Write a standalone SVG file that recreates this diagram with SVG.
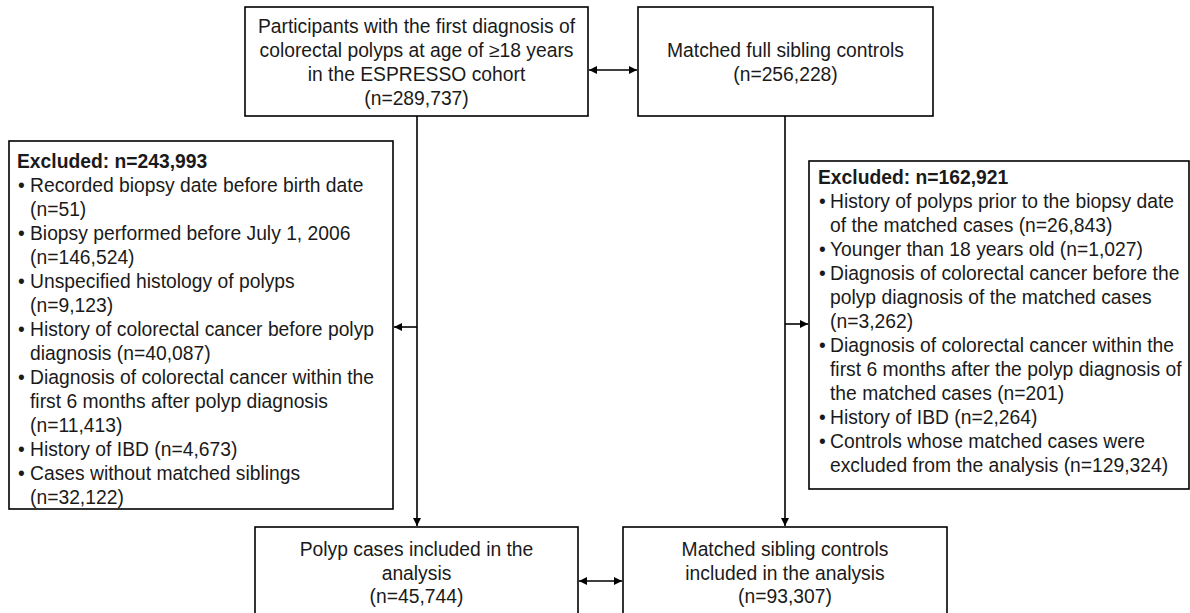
<svg xmlns="http://www.w3.org/2000/svg" width="1190" height="613" viewBox="0 0 1190 613">
<style>
.box{fill:#fff;stroke:#000;stroke-width:1.6}
.t{font-family:"Liberation Sans",Arial,sans-serif;font-size:19.3px;fill:#1a1a1a}
.c{text-anchor:middle}
.b{font-weight:bold}
.ln{stroke:#000;stroke-width:1.6;fill:none}
</style>
<defs>
<marker id="ah" viewBox="0 0 10 10" refX="10" refY="5" markerWidth="9" markerHeight="8" markerUnits="userSpaceOnUse" orient="auto-start-reverse">
<path d="M0,0 L10,5 L0,10 Z" fill="#000"/>
</marker>
</defs>
<g id="connectors">
<line class="ln" x1="589" y1="70" x2="637" y2="70" marker-start="url(#ah)" marker-end="url(#ah)"/>
<line class="ln" x1="417" y1="116" x2="417" y2="526" marker-end="url(#ah)"/>
<line class="ln" x1="417" y1="327" x2="394" y2="327" marker-end="url(#ah)"/>
<line class="ln" x1="785" y1="116" x2="785" y2="526" marker-end="url(#ah)"/>
<line class="ln" x1="785" y1="324" x2="808" y2="324" marker-end="url(#ah)"/>
<line class="ln" x1="579" y1="581" x2="622" y2="581" marker-start="url(#ah)" marker-end="url(#ah)"/>
</g>
<g id="node-participants">
<rect class="box" x="245" y="7" width="343" height="109"/>
<text class="t c" x="416.5" y="33">Participants with the first diagnosis of</text>
<text class="t c" x="416.5" y="57">colorectal polyps at age of ≥18 years</text>
<text class="t c" x="416.5" y="81">in the ESPRESSO cohort</text>
<text class="t c" x="416.5" y="105">(n=289,737)</text>
</g>
<g id="node-siblings">
<rect class="box" x="638" y="7" width="295" height="109"/>
<text class="t c" x="785.5" y="57">Matched full sibling controls</text>
<text class="t c" x="785.5" y="81">(n=256,228)</text>
</g>
<g id="node-excluded-left">
<rect class="box" x="9" y="141" width="384" height="368"/>
<text class="t b" x="17" y="168">Excluded: n=243,993</text>
<text class="t" x="18" y="192">•</text><text class="t" x="30" y="192">Recorded biopsy date before birth date</text>
<text class="t" x="30" y="216">(n=51)</text>
<text class="t" x="18" y="240">•</text><text class="t" x="30" y="240">Biopsy performed before July 1, 2006</text>
<text class="t" x="30" y="264">(n=146,524)</text>
<text class="t" x="18" y="288">•</text><text class="t" x="30" y="288">Unspecified histology of polyps</text>
<text class="t" x="30" y="312">(n=9,123)</text>
<text class="t" x="18" y="336">•</text><text class="t" x="30" y="336">History of colorectal cancer before polyp</text>
<text class="t" x="30" y="360">diagnosis (n=40,087)</text>
<text class="t" x="18" y="384">•</text><text class="t" x="30" y="384">Diagnosis of colorectal cancer within the</text>
<text class="t" x="30" y="408">first 6 months after polyp diagnosis</text>
<text class="t" x="30" y="432">(n=11,413)</text>
<text class="t" x="18" y="456">•</text><text class="t" x="30" y="456">History of IBD (n=4,673)</text>
<text class="t" x="18" y="480">•</text><text class="t" x="30" y="480">Cases without matched siblings</text>
<text class="t" x="30" y="504">(n=32,122)</text>
</g>
<g id="node-excluded-right">
<rect class="box" x="809" y="161" width="380" height="328"/>
<text class="t b" x="818" y="184">Excluded: n=162,921</text>
<text class="t" x="819" y="208">•</text><text class="t" x="830" y="208">History of polyps prior to the biopsy date</text>
<text class="t" x="830" y="232">of the matched cases (n=26,843)</text>
<text class="t" x="819" y="256">•</text><text class="t" x="830" y="256">Younger than 18 years old (n=1,027)</text>
<text class="t" x="819" y="280">•</text><text class="t" x="830" y="280">Diagnosis of colorectal cancer before the</text>
<text class="t" x="830" y="304">polyp diagnosis of the matched cases</text>
<text class="t" x="830" y="328">(n=3,262)</text>
<text class="t" x="819" y="352">•</text><text class="t" x="830" y="352">Diagnosis of colorectal cancer within the</text>
<text class="t" x="830" y="376">first 6 months after the polyp diagnosis of</text>
<text class="t" x="830" y="400">the matched cases (n=201)</text>
<text class="t" x="819" y="424">•</text><text class="t" x="830" y="424">History of IBD (n=2,264)</text>
<text class="t" x="819" y="448">•</text><text class="t" x="830" y="448">Controls whose matched cases were</text>
<text class="t" x="830" y="472">excluded from the analysis (n=129,324)</text>
</g>
<g id="node-polyp-cases">
<rect class="box" x="255" y="527" width="323" height="100"/>
<text class="t c" x="416.5" y="556">Polyp cases included in the</text>
<text class="t c" x="416.5" y="580">analysis</text>
<text class="t c" x="416.5" y="603">(n=45,744)</text>
</g>
<g id="node-sibling-controls">
<rect class="box" x="623" y="527" width="324" height="100"/>
<text class="t c" x="785" y="556">Matched sibling controls</text>
<text class="t c" x="785" y="580">included in the analysis</text>
<text class="t c" x="785" y="603">(n=93,307)</text>
</g>
</svg>
